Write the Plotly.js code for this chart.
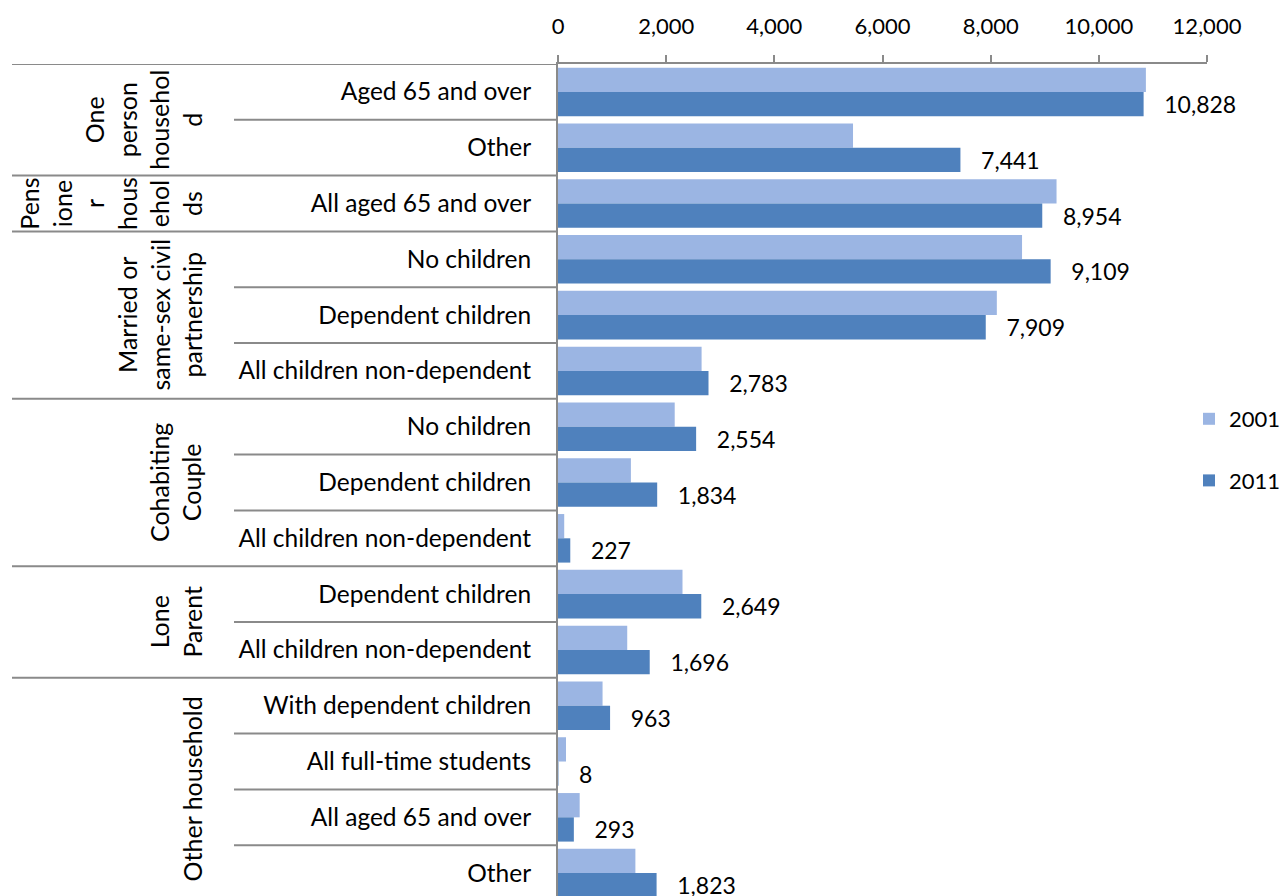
<!DOCTYPE html>
<html>
<head>
<meta charset="utf-8">
<script src="https://cdn.plot.ly/plotly-3.0.1.min.js"></script>
<style>html,body{margin:0;padding:0;background:#fff;}#chart{width:1283px;height:896px;}</style>
</head>
<body>
<div id="chart"></div>
<script>
// ---- data ----
const groupNames = ["One person household", "Pensioner households", "Married or same-sex civil partnership", "Cohabiting Couple", "Lone Parent", "Other household"];
const groupLabels = ["One<br>person<br>househol<br>d", "Pens<br>ione<br>r<br>hous<br>ehol<br>ds", "Married or<br>same-sex civil<br>partnership", "Cohabiting<br>Couple", "Lone<br>Parent", "Other household"];
const rowGroups = ["One person household", "One person household", "Pensioner households",
  "Married or same-sex civil partnership", "Married or same-sex civil partnership", "Married or same-sex civil partnership",
  "Cohabiting Couple", "Cohabiting Couple", "Cohabiting Couple", "Lone Parent", "Lone Parent",
  "Other household", "Other household", "Other household", "Other household"];
const categories = ["Aged 65 and over", "Other", "All aged 65 and over", "No children", "Dependent children",
  "All children non-dependent", "No children", "Dependent children", "All children non-dependent",
  "Dependent children", "All children non-dependent", "With dependent children", "All full-time students",
  "All aged 65 and over", "Other"];
const values2001 = [10870, 5455, 9218, 8580, 8114, 2655, 2158, 1348, 115, 2302, 1280, 824, 148, 401, 1431];
const values2011 = [10828, 7441, 8954, 9109, 7909, 2783, 2554, 1834, 227, 2649, 1696, 963, 8, 293, 1823];
const xTickVals = [0, 2000, 4000, 6000, 8000, 10000, 12000];

// ---- layout constants ----
const W = 1283, H = 896, ML = 558, MR = 76, MT = 64, MB = 0;
const plotW = W - ML - MR, plotH = H - MT - MB;
const px2x = p => (p - ML) / plotW;
const px2y = p => 1 - (p - MT) / plotH;
const FONT = "Lato, 'Open Sans', sans-serif";
const grey = "#8a8a8a";

const ids = categories.map((c, i) => rowGroups[i] + " | " + c);

const t2001 = {
  type: "bar", orientation: "h", name: "2001", legendgroup: "a",
  x: values2001, y: ids,
  marker: {color: "#9BB5E3", line: {width: 0}},
  textposition: "none", hoverinfo: "x+name"
};
const t2011 = {
  type: "bar", orientation: "h", name: "2011", legendgroup: "b",
  x: values2011, y: ids,
  marker: {color: "#4F81BD", line: {width: 0}},
  texttemplate: "\u00a0\u00a0\u00a0%{x:,}", textposition: "outside",
  textfont: {family: FONT, size: 23, color: "#000"},
  constraintext: "none", cliponaxis: false, hoverinfo: "x+name"
};

// separators and group labels
const shapes = [];
for (let i = 0; i <= categories.length; i++) {
  const isGroupEdge = i === 0 || i === categories.length || rowGroups[i] !== rowGroups[i - 1];
  shapes.push({
    type: "line", xref: "paper", yref: "y",
    x0: px2x(isGroupEdge ? 12 : 234), x1: 0, y0: i - 0.5, y1: i - 0.5,
    line: {color: grey, width: 2}
  });
}
const annotations = groupNames.map((g, gi) => {
  const idx = rowGroups.map((r, i) => r === g ? i : -1).filter(i => i >= 0);
  const center = (idx[0] + idx[idx.length - 1]) / 2;
  return {
    xref: "paper", yref: "y", x: px2x(209), y: center,
    xanchor: "right", yanchor: "middle", textangle: -90,
    text: groupLabels[gi], showarrow: false, align: "center",
    font: {family: FONT, size: 25, color: "#000"}
  };
});

const layout = {
  width: W, height: H,
  margin: {l: ML, r: MR, t: MT, b: MB, autoexpand: false},
  paper_bgcolor: "#fff", plot_bgcolor: "#fff",
  barmode: "group", bargap: 0.13, bargroupgap: 0,
  font: {family: FONT, size: 22, color: "#000"},
  xaxis: {
    side: "top", range: [0, 12000], tickvals: xTickVals, tickformat: ",",
    ticks: "outside", ticklen: 7, tickwidth: 2, tickcolor: grey,
    showline: true, linecolor: grey, linewidth: 2,
    showgrid: false, zeroline: false, ticklabelstandoff: 12,
    tickfont: {family: FONT, size: 22, color: "#000"}
  },
  yaxis: {
    type: "category", categoryorder: "array", categoryarray: ids,
    tickvals: ids, ticktext: categories,
    range: [14.41, -0.5],
    ticks: "", showline: true, linecolor: grey, linewidth: 2,
    showgrid: false, zeroline: false, ticklabelstandoff: 20,
    tickfont: {family: FONT, size: 24.5, color: "#000"}
  },
  legend: {
    x: px2x(1189), xanchor: "left", y: px2y(398), yanchor: "top",
    font: {family: FONT, size: 22, color: "#000"},
    itemwidth: 30, tracegroupgap: 30, traceorder: "grouped",
    bgcolor: "rgba(0,0,0,0)"
  },
  shapes: shapes,
  annotations: annotations
};

Plotly.newPlot("chart", [t2001, t2011], layout, {displayModeBar: false, staticPlot: true});
</script>
</body>
</html>
